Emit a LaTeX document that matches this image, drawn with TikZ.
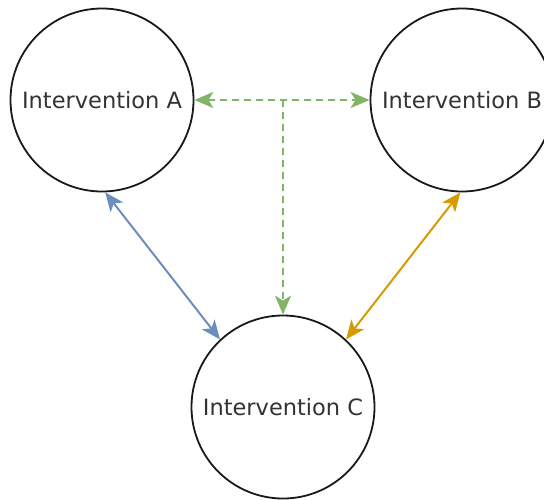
\documentclass[tikz,border=0pt]{standalone}
\usepackage{fontspec}
\setmainfont{DejaVu Sans}
\usetikzlibrary{arrows.meta}
\definecolor{linkblue}{HTML}{6C8EBF}
\definecolor{linkorange}{HTML}{D79B00}
\definecolor{linkgreen}{HTML}{82B366}
\begin{document}
\begin{tikzpicture}[x=1pt,y=-1pt,>={Stealth[length=19pt,width=16pt,inset=5pt]},
  interv/.style={draw=black!90,line width=1.8pt,circle,minimum size=183pt,inner sep=0pt,
    font=\fontsize{22.5}{26}\selectfont,text=black!80},
  link/.style={line width=2pt,<->},
  greenlink/.style={link,draw=linkgreen,fill=linkgreen,dash pattern=on 7pt off 5pt}]
  \useasboundingbox (0,0) rectangle (544,499);
  \node[interv] (ia) at (102,100) {Intervention A};
  \node[interv] (ib) at (462,100) {Intervention B};
  \node[interv] (ic) at (283,407) {\raisebox{-6pt}{Intervention C}};
  \coordinate (mid) at (283,100);
  \draw[greenlink] (ia.east) -- (ib.west);
  \draw[greenlink,->] (mid) -- (ic.north);
  \draw[link,draw=linkblue,fill=linkblue] (ia.-88) -- (ic.133);
  \draw[link,draw=linkorange,fill=linkorange] (ib.-91) -- (ic.47);
\end{tikzpicture}
\end{document}
